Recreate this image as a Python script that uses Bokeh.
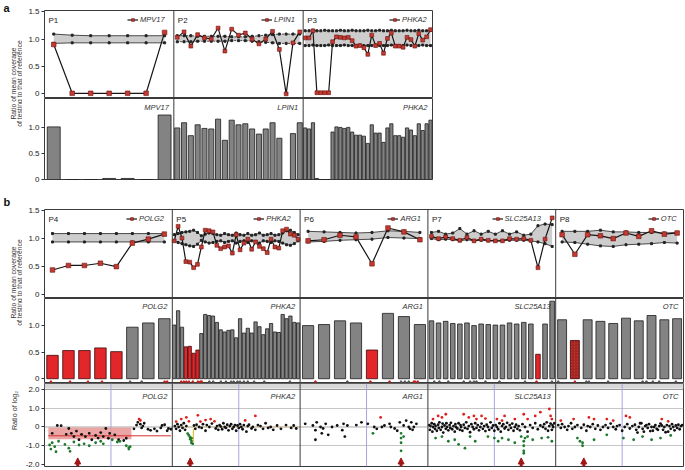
import math
from bokeh.plotting import figure
from bokeh.models import (Range1d, FixedTicker, Span, Label, Legend, LegendItem,
                          Arrow, NormalHead, BoxAnnotation)
from bokeh.layouts import column, row
from bokeh.embed import file_html
from bokeh.resources import INLINE
from bokeh.core.properties import value

FONT = "Liberation Sans"

# ---------------- section a data ----------------
a_names = ["P1", "P2", "P3"]
a_genes = ["MPV17", "LPIN1", "PHKA2"]
p1_ratio = [0.90, 0.01, 0.01, 0.01, 0.01, 0.01, 1.12]
p1_upper = [1.09, 1.07, 1.06, 1.06, 1.06, 1.06, 1.06]
p1_lower = [0.92, 0.93, 0.93, 0.93, 0.93, 0.93, 0.93]
p1_bars = [1.02, 0.0, 0.0, 0.02, 0.02, 0.0, 1.25]

p2_ratio = [1.03, 1.13, 0.87, 1.08, 1.02, 1.00, 1.20, 0.78, 1.18, 1.07, 1.11, 1.00, 0.91, 1.00, 1.14, 0.81, 0.00, 0.93, 1.13]
p2_upper = [1.06, 1.06, 1.06, 1.05, 1.05, 1.05, 1.05, 1.05, 1.04, 1.04, 1.04, 1.05, 1.06, 1.07, 1.08, 1.09, 1.09, 1.09, 1.09]
p2_lower = [0.95, 0.95, 0.95, 0.96, 0.96, 0.96, 0.96, 0.96, 0.97, 0.97, 0.97, 0.96, 0.95, 0.94, 0.93, 0.92, 0.92, 0.92, 0.92]
p2_bars = [1.00, 1.10, 0.85, 1.06, 0.99, 0.98, 1.17, 0.76, 1.15, 1.06, 1.08, 0.98, 0.88, 0.98, 1.10, 0.80, 0.00, 0.89, 1.10]

p3_ratio = [1.02, 1.02, 1.15, 0.02, 0.02, 0.02, 0.02, 0.95, 1.04, 1.03, 1.02, 1.03, 0.97, 0.87, 0.88, 0.84, 0.72,
            1.07, 0.88, 0.92, 0.74, 1.01, 1.11, 0.87, 0.87, 0.85, 1.03, 0.99, 0.87, 1.10, 0.98, 1.04, 1.17]
p3_upper = [1.15, 1.15, 1.16, 1.15, 1.15, 1.16, 1.15, 1.15, 1.15, 1.16, 1.15, 1.15, 1.16, 1.15, 1.15, 1.15, 1.16,
            1.15, 1.15, 1.16, 1.15, 1.15, 1.16, 1.15, 1.15, 1.15, 1.16, 1.15, 1.15, 1.16, 1.15, 1.15, 1.16]
p3_lower = [0.88, 0.88, 0.89, 0.88, 0.88, 0.88, 0.89, 0.88, 0.88, 0.88, 0.89, 0.88, 0.88, 0.88, 0.89, 0.88, 0.88,
            0.88, 0.89, 0.88, 0.88, 0.88, 0.89, 0.88, 0.88, 0.88, 0.89, 0.88, 0.88, 0.88, 0.89, 0.88, 0.88]
p3_bars = [1.00, 0.98, 1.10, 0.02, 0.0, 0.0, 0.0, 0.92, 1.02, 1.01, 0.99, 1.01, 0.92, 0.86, 0.86, 0.84, 0.70,
           1.06, 0.90, 0.90, 0.72, 1.00, 1.08, 0.85, 0.85, 0.82, 1.00, 0.96, 0.85, 1.08, 0.95, 1.08, 1.15]

# ---------------- section b data ----------------
b_names = ["P4", "P5", "P6", "P7", "P8"]
b_genes = ["POLG2", "PHKA2", "ARG1", "SLC25A13", "OTC"]

p4_ratio = [0.43, 0.51, 0.51, 0.55, 0.49, 0.91, 0.98, 1.07]
p4_upper = [1.08, 1.08, 1.08, 1.08, 1.08, 1.08, 1.08, 1.08]
p4_lower = [0.93, 0.93, 0.93, 0.93, 0.93, 0.93, 0.93, 0.93]
p4_bars = [0.44, 0.53, 0.53, 0.58, 0.51, 0.97, 1.05, 1.13]
p4_del = [1, 1, 1, 1, 1, 0, 0, 0]

p5_ratio = [0.95, 1.21, 1.00, 0.58, 0.57, 0.47, 0.53, 0.84, 1.14, 1.13, 1.11, 0.87, 0.81, 0.84, 0.86, 0.73, 1.06,
            0.79, 0.91, 0.98, 0.80, 0.93, 0.85, 0.81, 0.74, 0.98, 0.84, 0.82, 1.13, 1.16, 1.07, 1.05, 0.98]
p5_upper = [1.06, 1.08, 1.10, 1.11, 1.12, 1.14, 1.10, 1.04, 1.07, 1.09, 1.08, 1.06, 1.05, 1.08, 1.06, 1.05, 1.09,
            1.06, 1.05, 1.08, 1.05, 1.06, 1.09, 1.05, 1.06, 1.08, 1.05, 1.06, 1.09, 1.13, 1.14, 1.10, 1.06]
p5_lower = [0.95, 0.92, 0.90, 0.88, 0.86, 0.85, 0.89, 0.96, 0.93, 0.91, 0.92, 0.94, 0.95, 0.92, 0.94, 0.95, 0.91,
            0.94, 0.95, 0.92, 0.95, 0.94, 0.91, 0.95, 0.94, 0.92, 0.95, 0.94, 0.91, 0.88, 0.87, 0.90, 0.95]
p5_bars = [1.01, 1.28, 0.97, 0.60, 0.61, 0.48, 0.54, 0.85, 1.21, 1.19, 1.18, 1.06, 0.92, 0.88, 0.91, 0.92, 0.77,
           1.13, 0.86, 0.95, 0.86, 1.07, 0.98, 0.83, 0.94, 1.04, 0.88, 0.87, 1.21, 1.13, 1.18, 1.06, 1.05]
p5_del = [0, 0, 0, 1, 1, 1, 1, 0, 0, 0, 0, 0, 0, 0, 0, 0, 0, 0, 0, 0, 0, 0, 0, 0, 0, 0, 0, 0, 0, 0, 0, 0, 0]

p6_ratio = [0.95, 0.97, 1.05, 1.02, 0.54, 1.18, 1.11, 0.97]
p6_upper = [1.12, 1.11, 1.10, 1.09, 1.10, 1.13, 1.12, 1.10]
p6_lower = [0.93, 0.94, 0.96, 0.97, 0.98, 1.01, 1.00, 0.99]
p6_bars = [1.00, 1.02, 1.09, 1.05, 0.54, 1.23, 1.17, 1.02]
p6_del = [0, 0, 0, 0, 1, 0, 0, 0]

p7_ratio = [1.03, 0.99, 1.02, 0.99, 0.96, 1.01, 0.95, 0.98, 0.96, 0.95, 0.95, 0.99, 0.98, 0.99, 0.96, 0.47, 0.98, 1.36]
p7_upper = [1.10, 1.12, 1.07, 1.09, 1.17, 1.07, 1.13, 1.07, 1.12, 1.07, 1.13, 1.07, 1.11, 1.05, 1.07, 1.22, 1.25, 1.24]
p7_lower = [0.99, 0.97, 0.98, 0.97, 0.95, 0.97, 0.95, 0.96, 0.95, 0.95, 0.95, 0.96, 0.96, 0.96, 0.95, 0.93, 0.90, 0.85]
p7_bars = [1.09, 1.05, 1.08, 1.04, 1.03, 1.05, 1.00, 1.03, 1.02, 1.01, 1.01, 1.05, 1.03, 1.06, 1.03, 0.46, 1.03, 1.46]
p7_del = [0, 0, 0, 0, 0, 0, 0, 0, 0, 0, 0, 0, 0, 0, 0, 1, 0, 0]

p8_ratio = [1.06, 0.71, 1.06, 1.04, 0.99, 1.09, 1.03, 1.13, 1.07, 1.09]
p8_upper = [1.12, 1.12, 1.12, 1.14, 1.11, 1.11, 1.10, 1.10, 1.09, 1.10]
p8_lower = [0.93, 0.92, 0.89, 0.86, 0.85, 0.88, 0.89, 0.90, 0.92, 0.91]
p8_bars = [1.11, 0.72, 1.11, 1.08, 1.04, 1.14, 1.09, 1.19, 1.11, 1.13]
p8_del = [0, 1, 0, 0, 0, 0, 0, 0, 0, 0]

# exon marker strip (fraction of panel, 1 = deleted/red)
strip_x = [
    [0.05, 0.20, 0.34, 0.45, 0.67, 0.76, 0.94, 0.96],
    [0.07, 0.09, 0.11, 0.13, 0.16, 0.20, 0.22, 0.23, 0.29, 0.32, 0.38, 0.42, 0.46, 0.48, 0.51, 0.53, 0.56, 0.59, 0.64, 0.72, 0.92],
    [0.12, 0.37, 0.55, 0.70, 0.79, 0.82, 0.85, 0.89, 0.90, 0.92],
    [0.05, 0.09, 0.16, 0.28, 0.33, 0.36, 0.38, 0.45, 0.56, 0.76, 0.85, 0.97],
    [0.02, 0.15, 0.24, 0.26, 0.41, 0.68, 0.71, 0.76, 0.81, 0.94],
]
strip_red = [
    [1, 1, 1, 1, 0, 0, 1, 1],
    [1, 1, 1, 1, 1, 1, 1, 1, 0, 0, 0, 0, 0, 0, 0, 0, 0, 0, 0, 0, 0],
    [1, 0, 1, 1, 0, 0, 0, 1, 1, 1],
    [0, 0, 0, 0, 0, 0, 0, 0, 0, 0, 1, 0],
    [0, 1, 0, 0, 0, 0, 0, 0, 0, 0],
]

# ---------------- log2 ratio scatter (x in % of panel) ----------------
p4_bx = [6, 10, 13, 17, 19, 21, 23, 25, 27, 29, 32, 35, 37, 40, 42, 44, 46, 48, 50, 51,
         55, 58, 62, 64, 70, 72, 73, 75, 76, 77, 78, 81, 83, 86, 88, 91, 92, 94, 96, 97, 99]
p4_by = [-0.34, 0.08, 0.07, -0.39, -0.08, -0.34, -0.51, -0.22, -0.68, -0.39, -0.51, -0.34, -0.68, -0.45, -0.59,
         -0.3, -0.51, -0.08, -0.6, -0.34, -0.42, -0.68, -0.72, -0.6, -0.1, 0.1, 0.25, 0.15, -0.05, 0.05,
         0.2, -0.12, -0.18, -0.1, -0.22, -0.05, 0.08, 0.12, -0.2, -0.08, -0.12]
p4_rx = [74, 75]
p4_ry = [0.42, 0.35]
p4_gx = [4, 5, 6, 8, 9, 11, 16, 19, 20, 23, 27, 31, 35, 40, 44, 46, 53, 57, 59, 64, 66, 66, 67]
p4_gy = [-0.96, -1.18, -0.84, -1.05, -1.32, -0.76, -0.93, -1.13, -1.3, -0.8, -0.96, -0.9, -1.0, -0.84, -0.76,
         -0.9, -0.68, -0.8, -0.76, -1.0, -1.1, -1.18, -1.05]

p5_bx = [2, 3, 4, 5, 6, 7, 8, 9, 10, 11, 17, 18, 19, 21, 23, 24, 26, 27, 29, 31,
         34, 35, 36, 37, 38, 39, 40, 41, 42, 43, 44, 45, 46, 47, 48, 49, 50, 51, 52, 53,
         54, 55, 56, 58, 59, 60, 62, 63, 65, 67, 69, 71, 73, 75, 77, 79, 82, 85, 89, 93, 95, 97]
p5_by = [0.05, -0.1, 0.15, 0.0, -0.2, 0.1, -0.05, 0.2, -0.15, 0.05, 0.08, -0.1, 0.12, 0.0, -0.05, 0.15, -0.2, 0.1, 0.0, 0.18,
         -0.08, 0.05, -0.15, 0.1, 0.02, -0.12, 0.2, 0.0, -0.05, 0.12, -0.18, 0.05, 0.15, -0.1, 0.0, 0.1, -0.2, 0.08, -0.05, 0.15,
         0.0, -0.12, 0.1, -0.25, 0.05, 0.12, -0.08, 0.0, -0.15, 0.1, 0.05, -0.1, 0.2, -0.05, 0.0, -0.15, 0.08, -0.1, 0.1, -0.05, 0.08, -0.08]
p5_rx = [3, 7, 11, 13, 20, 22, 26, 30, 33, 57, 65]
p5_ry = [0.29, 0.42, 0.51, 0.30, 0.62, 0.29, 0.37, 0.42, 0.30, 0.35, 0.59]
p5_gx = [12, 13, 14, 14, 15, 15, 16, 15]
p5_gy = [-0.35, -0.45, -0.55, -0.65, -0.75, -0.85, -0.9, -0.6]

p6_bx = [4, 10, 12, 13, 16, 17, 18, 20, 22, 25, 29, 33, 34, 37, 48, 53, 58, 60, 66, 70,
         71, 74, 78, 81, 83, 85, 86, 87, 89, 91, 12, 35, 44, 64, 76, 88]
p6_by = [0.17, 0.08, -0.17, 0.25, 0.0, -0.34, -0.08, 0.17, -0.42, 0.0, 0.08, -0.17, 0.17, 0.08, 0.25, 0.17, 0.0, -0.1, 0.08, 0.17,
         0.0, -0.08, 0.25, 0.08, 0.34, 0.0, -0.1, 0.25, 0.0, 0.17, -0.68, -0.51, 0.1, 0.0, -0.2, -0.15]
p6_rx = [63]
p6_ry = [0.51]
p6_gx = [57, 79, 79, 79, 79, 81]
p6_gy = [-0.34, -0.34, -0.59, -0.84, -1.27, -0.51]

p7_bx = [1, 1.5, 2, 3, 3.5, 4, 5, 5.5, 6, 7, 8, 8.5, 9, 10, 11, 11.5, 12, 13, 14, 14.5,
         15, 16, 17, 17.5, 18, 19, 20, 21, 21.5, 22, 23, 24, 25, 25.5, 26, 27, 28, 29, 30, 31,
         32, 33, 34, 35, 36, 37, 38, 39, 40, 41, 42, 43, 44, 45, 46, 47, 48, 49, 50, 51,
         52, 53, 54, 55, 56, 57, 58, 59, 60, 61, 62, 63, 64, 65, 66, 67, 68, 69, 70, 71,
         72, 74, 76, 78, 80, 82, 84, 86, 88, 90, 91, 92, 93, 94, 95, 96, 97, 97.5, 98, 99]
p7_by = [0.1, -0.15, 0.05, 0.2, -0.25, 0.0, 0.15, -0.1, 0.05, -0.2,
         0.12, -0.05, 0.25, -0.15, 0.0, 0.18, -0.3, 0.08, -0.1, 0.2,
         0.0, -0.18, 0.1, -0.05, 0.22, -0.12, 0.05, -0.25, 0.15, 0.0,
         -0.08, 0.2, -0.15, 0.1, 0.0, -0.2, 0.12, -0.05, 0.25, -0.1,
         0.05, -0.28, 0.15, 0.0, -0.12, 0.2, -0.05, 0.1, -0.18, 0.0,
         0.18, -0.1, 0.05, -0.22, 0.12, 0.0, -0.15, 0.25, -0.05, 0.08,
         -0.2, 0.1, 0.0, -0.12, 0.2, -0.25, 0.05, 0.15, -0.08, 0.0,
         0.22, -0.15, 0.1, -0.05, 0.18, -0.2, 0.0, 0.12, -0.1, 0.05,
         -0.18, 0.15, 0.0, -0.25, 0.1, -0.05, 0.2, -0.12, 0.08, 0.0,
         0.15, -0.1, 0.25, -0.2, 0.05, 0.18, -0.15, 0.1, 0.0, 0.2]
p7_rx = [4, 8, 11, 14, 28, 32, 36, 38, 42, 45, 54, 58, 60, 68, 75, 78, 84, 88, 95, 96, 97]
p7_ry = [0.42, 0.59, 0.51, 0.68, 0.68, 0.51, 0.59, 0.42, 0.59, 0.45, 0.42, 0.34, 0.59, 0.42, 0.68, 0.42, 0.59, 0.79, 0.96, 0.59, 0.42]
p7_gx = [6, 11, 16, 21, 24, 29, 33, 37, 47, 52, 55, 58, 63, 68, 73, 75, 75, 75, 75, 76, 78, 82, 89, 94, 97]
p7_gy = [-0.59, -0.51, -0.76, -0.68, -0.93, -1.13, -0.51, -0.76, -0.51, -0.59, -0.76, -0.59, -0.68, -0.84, -0.51,
         -0.76, -1.0, -1.27, -1.4, -0.59, -0.51, -0.68, -0.59, -0.55, -0.76]

p8_bx = [2, 4, 5, 7, 9, 10, 12, 13, 15, 17, 20, 22, 24, 25, 27, 29, 31, 33, 35, 37,
         39, 41, 43, 45, 47, 48, 50, 52, 54, 56, 58, 60, 62, 63, 65, 67, 68, 70, 72, 73,
         75, 76, 78, 79, 81, 82, 84, 85, 87, 88, 89, 90, 91, 92, 93, 94, 95, 96, 97, 98,
         64, 66, 69, 71, 74, 77, 80, 83, 86, 99]
p8_by = [0.1, -0.05, 0.15, 0.0, -0.15, 0.05, 0.2, -0.1, 0.0, 0.1,
         -0.05, 0.12, -0.2, 0.05, 0.0, 0.15, -0.1, 0.08, -0.15, 0.0,
         0.1, -0.05, 0.18, 0.0, -0.12, 0.05, 0.1, -0.2, 0.0, 0.15,
         -0.08, 0.05, 0.12, -0.15, 0.0, 0.2, -0.1, 0.05, -0.05, 0.15,
         0.0, -0.2, 0.1, -0.1, 0.05, 0.18, -0.15, 0.0, 0.1, -0.25,
         0.05, -0.1, 0.15, 0.0, -0.18, 0.08, -0.05, 0.12, -0.12, 0.05,
         -0.3, 0.2, -0.25, 0.1, -0.22, 0.0, -0.15, 0.08, -0.28, 0.1]
p8_rx = [4, 14, 26, 30, 40, 45, 55, 58, 83, 88]
p8_ry = [0.34, 0.42, 0.51, 0.42, 0.42, 0.34, 0.59, 0.51, 0.42, 0.30]
p8_gx = [17, 19, 21, 21, 30, 40, 53, 61, 68, 75, 82, 90]
p8_gy = [-0.59, -0.76, -0.84, -1.0, -0.68, -0.42, -0.59, -0.68, -0.51, -0.68, -0.59, -0.45]

arrow_frac = [0.26, 0.14, 0.79, 0.73, 0.22]
# P4 segmentation call
cnv_x = [0.03, 0.68]
cnv_y = [-0.66, -0.03]
cnv_mean = -0.47
cnv_mean_x = [0.03, 0.99]
# P5 marked position
p5_mark_x = 0.165
p5_mark_y = [-0.1, -0.8]

# ---------------- styling ----------------
GRAY = "#838383"
RED = "#e3262a"
BAND = "#cdcdcd"
PT_FILL = "#c23a31"
PT_LINE = "#6b1410"
LAB_W = 22
LEFT = 20
A_W, B_W = 390, 641


def base_fig(width, height, xr, yr, ticks, labels, top=0, bottom=0):
    p = figure(width=width, height=height, x_range=Range1d(*xr), y_range=Range1d(*yr),
               output_backend="svg", toolbar_location=None, x_axis_location=None,
               min_border_left=LEFT, min_border_right=1, min_border_top=top, min_border_bottom=bottom)
    p.xgrid.visible = False
    p.ygrid.visible = False
    p.outline_line_color = "#3a3a3a"
    p.outline_line_width = 1
    ax = p.yaxis[0]
    ax.ticker = FixedTicker(ticks=ticks)
    ax.major_label_overrides = dict(zip(ticks, labels))
    ax.axis_line_color = None
    ax.major_tick_line_color = "#333333"
    ax.major_tick_out = 3
    ax.major_tick_in = 0
    ax.minor_tick_line_color = None
    ax.major_label_text_font = FONT
    ax.major_label_text_font_size = "8px"
    ax.major_label_text_color = "#222222"
    ax.major_label_standoff = 2
    return p


def exon_x(k, n):
    return [k + (i + 0.5) / n for i in range(n)]


def separators(p, npanels):
    for k in range(1, npanels):
        p.add_layout(Span(location=k, dimension="height", line_color="#3a3a3a", line_width=1))


def draw_top(p, k, ratio, upper, lower, dashed, gene, name, leg_x, leg_y, ytop):
    xs = exon_x(k, len(ratio))
    msize = 4.6 if len(ratio) <= 12 else 3.8
    p.varea(x=xs, y1=lower, y2=upper, fill_color=BAND)
    for edge in (upper, lower):
        p.line(xs, edge, line_color="#222222", line_width=0.8, line_dash="2 1" if dashed else "solid")
        p.scatter(xs, edge, marker="square", size=2, color="#222222")
    lr = p.line(xs, ratio, line_color="#151515", line_width=1.2)
    sr = p.scatter(xs, ratio, marker="square", size=msize, fill_color=PT_FILL, line_color=PT_LINE, line_width=0.6)
    leg = Legend(items=[LegendItem(label=value(gene), renderers=[lr, sr])], location=(leg_x, leg_y),
                 glyph_width=11, glyph_height=7, label_height=7, label_standoff=2, padding=0, margin=0,
                 spacing=0, border_line_alpha=0, background_fill_alpha=0,
                 label_text_font=FONT, label_text_font_style="italic", label_text_font_size="7.5px",
                 label_text_color="#333333")
    p.add_layout(leg)
    p.add_layout(Label(x=k, y=ytop, x_offset=4, y_offset=-5, text=name, text_baseline="top",
                       text_font=FONT, text_font_size="8px", text_color="#222222"))


def draw_bars(p, k, vals, dels, wfrac, gene, ytop, yoff, hatch=False):
    n = len(vals)
    xs = exon_x(k, n)
    gx = [x for x, d in zip(xs, dels) if not d]
    gv = [v for v, d in zip(vals, dels) if not d]
    rx = [x for x, d in zip(xs, dels) if d]
    rv = [v for v, d in zip(vals, dels) if d]
    p.vbar(x=gx, top=gv, bottom=0, width=wfrac / n, fill_color=GRAY, line_color="#1c1c1c", line_width=0.8)
    if rx:
        if hatch:
            p.vbar(x=rx, top=rv, bottom=0, width=wfrac / n, fill_color="#c8352e", line_color="#3a0a0a",
                   line_width=0.8, hatch_pattern="right_diagonal_line", hatch_color="#7a1212",
                   hatch_scale=3, hatch_weight=0.7)
        else:
            p.vbar(x=rx, top=rv, bottom=0, width=wfrac / n, fill_color=RED, line_color="#3a0a0a", line_width=0.8)
    p.add_layout(Label(x=k + 1, y=ytop, x_offset=-5, y_offset=yoff, text=gene, text_align="right",
                       text_baseline="top", text_font=FONT, text_font_style="italic",
                       text_font_size="7.5px", text_color="#333333"))


# ---------------- section a ----------------
TOP_TICKS = [0, 0.5, 1, 1.5]
TOP_LABELS = ["0", "0.5", "1.0", "1.5"]
BAR_TICKS = [0, 0.5, 1]
BAR_LABELS = ["0", "0.5", "1.0"]

fa1 = base_fig(LEFT + A_W + 1, 98, (0, 3), (-0.085, 1.52), TOP_TICKS, TOP_LABELS, top=10)
fa2 = base_fig(LEFT + A_W + 1, 107, (0, 3), (0, 1.57), BAR_TICKS, BAR_LABELS, bottom=26)
separators(fa1, 3)
separators(fa2, 3)
a_ratio = [p1_ratio, p2_ratio, p3_ratio]
a_upper = [p1_upper, p2_upper, p3_upper]
a_lower = [p1_lower, p2_lower, p3_lower]
a_bars = [p1_bars, p2_bars, p3_bars]
a_leg = [83, 87, 85]
a_wfrac = [0.7, 0.75, 0.82]
pa = A_W / 3
for k in range(3):
    draw_top(fa1, k, a_ratio[k], a_upper[k], a_lower[k], k > 0, a_genes[k], a_names[k],
             k * pa + a_leg[k], 74.5, 1.52)
    draw_bars(fa2, k, a_bars[k], [0] * len(a_bars[k]), a_wfrac[k], a_genes[k], 1.57, -4)

# ---------------- section b ----------------
fb1 = base_fig(LEFT + B_W + 1, 93, (0, 5), (-0.08, 1.51), TOP_TICKS, TOP_LABELS, top=4)
fb2 = base_fig(LEFT + B_W + 1, 85, (0, 5), (-0.09, 1.51), BAR_TICKS, BAR_LABELS)
fb3 = base_fig(LEFT + B_W + 1, 85, (0, 5), (-2.107, 2.32), [-2, -1, 0, 1, 2],
               ["-2.0", "-1.0", "0", "1.0", "2.0"], bottom=2)
b_ratio = [p4_ratio, p5_ratio, p6_ratio, p7_ratio, p8_ratio]
b_upper = [p4_upper, p5_upper, p6_upper, p7_upper, p8_upper]
b_lower = [p4_lower, p5_lower, p6_lower, p7_lower, p8_lower]
b_bars = [p4_bars, p5_bars, p6_bars, p7_bars, p8_bars]
b_del = [p4_del, p5_del, p6_del, p7_del, p8_del]
b_leg = [82, 81, 87, 63, 91]
b_wfrac = [0.72, 0.85, 0.7, 0.65, 0.7]
pb = B_W / 5

# scatter background
fb3.ygrid.visible = True
fb3.ygrid.ticker = FixedTicker(ticks=[-1, 1])
fb3.ygrid.grid_line_color = "#c6c6c6"
fb3.add_layout(BoxAnnotation(bottom=2.05, top=2.32, fill_color="#d8d8d8", fill_alpha=1,
                             line_color=None, level="underlay"))
fb3.add_layout(Span(location=2.0, dimension="width", line_color="#9a9a9a", line_width=1, level="underlay"))
fb3.add_layout(Span(location=0, dimension="width", line_color="#aaaaaa", line_width=1, level="underlay"))
for k in range(5):
    fb3.add_layout(Span(location=k + 0.52, dimension="height", line_color="#a4a4e6", line_width=1,
                        level="underlay"))

for f in (fb1, fb2, fb3):
    separators(f, 5)

for k in range(5):
    draw_top(fb1, k, b_ratio[k], b_upper[k], b_lower[k], False, b_genes[k], b_names[k],
             k * pb + b_leg[k], 75.5, 1.51)
    draw_bars(fb2, k, b_bars[k], b_del[k], b_wfrac[k], b_genes[k], 1.51, -3, hatch=(k == 4))

# exon strip (below the bars' baseline)
for k in range(5):
    xs = [k + f for f in strip_x[k]]
    cols = ["#c0201c" if r else "#555555" for r in strip_red[k]]
    fb2.scatter(xs, [-0.055] * len(xs), marker="square", size=1.4, color=cols)

# P4 segmentation
fb3.quad(left=[cnv_x[0]], right=[cnv_x[1]], bottom=[cnv_y[0]], top=[cnv_y[1]],
         fill_color="#e68f8f", fill_alpha=0.8, line_color=None)
fb3.segment(x0=[cnv_mean_x[0]], x1=[cnv_mean_x[1]], y0=[cnv_mean], y1=[cnv_mean],
            line_color="#d83030", line_width=1)
# P5 marks
fb3.segment(x0=[1], x1=[2], y0=[0], y1=[0], line_color="#d8c49a", line_width=1.2)
fb3.segment(x0=[1 + p5_mark_x], x1=[1 + p5_mark_x], y0=[p5_mark_y[0]], y1=[p5_mark_y[1]],
            line_color="#e0c040", line_width=1.2)

sc_black = [(p4_bx, p4_by), (p5_bx, p5_by), (p6_bx, p6_by), (p7_bx, p7_by), (p8_bx, p8_by)]
sc_red = [(p4_rx, p4_ry), (p5_rx, p5_ry), (p6_rx, p6_ry), (p7_rx, p7_ry), (p8_rx, p8_ry)]
sc_green = [(p4_gx, p4_gy), (p5_gx, p5_gy), (p6_gx, p6_gy), (p7_gx, p7_gy), (p8_gx, p8_gy)]
for k in range(5):
    for (xs, ys), col in ((sc_black[k], "#111111"), (sc_red[k], "#e0201c"), (sc_green[k], "#1d7a2c")):
        n = min(len(xs), len(ys))
        fb3.scatter([k + x / 100 for x in xs[:n]], ys[:n], size=2.8, color=col, line_color=None)
    fb3.add_layout(Label(x=k + 1, y=2.0, x_offset=-5, y_offset=-3, text=b_genes[k], text_align="right",
                         text_baseline="top", text_font=FONT, text_font_style="italic",
                         text_font_size="7.5px", text_color="#333333"))
    xa = k + arrow_frac[k]
    fb3.add_layout(Arrow(end=NormalHead(size=6, fill_color="#a31616", line_color="#a31616"),
                         x_start=xa, y_start=-2.107, x_end=xa, y_end=-1.65,
                         line_color="#a31616", line_width=3))

# ---------------- label column ----------------
TOTAL_H = 98 + 107 + 93 + 85 + 85
lab = figure(width=LAB_W, height=TOTAL_H, x_range=Range1d(0, LAB_W), y_range=Range1d(0, TOTAL_H),
             output_backend="svg", toolbar_location=None, x_axis_location=None, y_axis_location=None,
             min_border_left=0, min_border_right=0, min_border_top=0, min_border_bottom=0)
lab.outline_line_color = None
lab.grid.visible = False
lab.text(x=[3, 3], y=[TOTAL_H - 1, TOTAL_H - 195], text=["a", "b"], text_font=value(FONT),
         text_font_style="bold", text_font_size="11px", text_baseline="top", text_align="left",
         text_color="#111111")
ylab1 = "Ratio of mean coverage"
ylab2 = "of testing to that of reference"
ya, yb = TOTAL_H - 83, TOTAL_H - 282
lab.text(x=[12.5, 18.5, 12.5, 18.5], y=[ya, ya, yb, yb], text=[ylab1, ylab2, ylab1, ylab2],
         angle=math.pi / 2, text_align="center", text_baseline="middle", text_font=value(FONT),
         text_font_size="6.8px", text_color="#333333")
lab.text(x=[14], y=[TOTAL_H - 410], text=["Ratio of log\u2082"], angle=math.pi / 2, text_align="center",
         text_baseline="middle", text_font=value(FONT), text_font_size="7.2px", text_color="#333333")

layout = row(lab, column(fa1, fa2, fb1, fb2, fb3))
open("out.html", "w").write(file_html(layout, INLINE))
